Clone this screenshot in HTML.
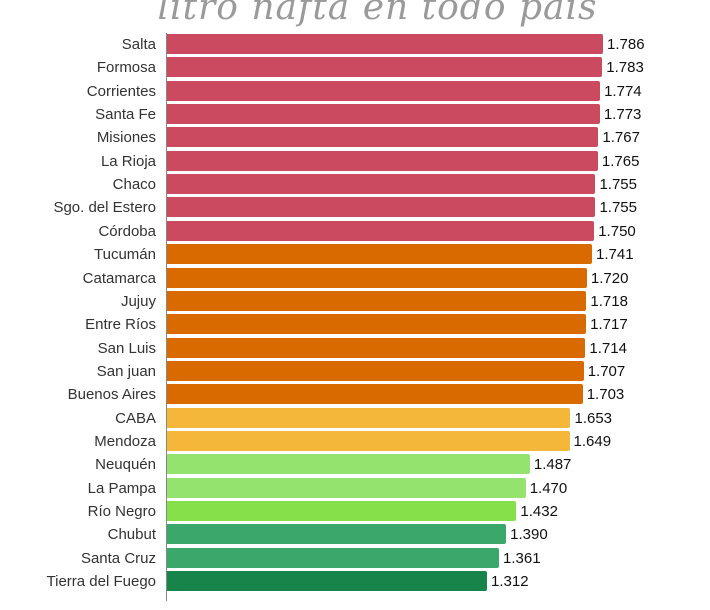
<!DOCTYPE html>
<html><head><meta charset="utf-8"><style>
body{margin:0;width:710px;height:610px;background:#fff;position:relative;overflow:hidden;font-family:"Liberation Sans",sans-serif}
.t{position:absolute;left:155px;width:445px;text-align:center;top:-13px;font-family:"DejaVu Serif","Liberation Serif",serif;font-style:italic;font-size:36px;color:#9a9a9a;letter-spacing:1px;white-space:nowrap}
.ax{position:absolute;left:166px;top:33px;width:1px;height:568px;background:#888}
.b{position:absolute;left:167px;height:20px;border-radius:0 2px 2px 0}
.l{position:absolute;right:554px;font-size:15px;color:#333;line-height:20px;white-space:nowrap}
.v{position:absolute;font-size:15px;color:#111;line-height:20px}
</style></head><body>
<div class="t">litro nafta en todo pais</div>
<div class="ax"></div>
<div id="c"></div>
<script>
var d=[["Salta",1.786,"#cc4a5f"],["Formosa",1.783,"#cc4a5f"],["Corrientes",1.774,"#cc4a5f"],["Santa Fe",1.773,"#cc4a5f"],["Misiones",1.767,"#cc4a5f"],["La Rioja",1.765,"#cc4a5f"],["Chaco",1.755,"#cc4a5f"],["Sgo. del Estero",1.755,"#cc4a5f"],["Córdoba",1.750,"#cc4a5f"],["Tucumán",1.741,"#d96a00"],["Catamarca",1.720,"#d96a00"],["Jujuy",1.718,"#d96a00"],["Entre Ríos",1.717,"#d96a00"],["San Luis",1.714,"#d96a00"],["San juan",1.707,"#d96a00"],["Buenos Aires",1.703,"#d96a00"],["CABA",1.653,"#f4b73a"],["Mendoza",1.649,"#f4b73a"],["Neuquén",1.487,"#94e36f"],["La Pampa",1.470,"#94e36f"],["Río Negro",1.432,"#85e04a"],["Chubut",1.390,"#3aa86b"],["Santa Cruz",1.361,"#3aa86b"],["Tierra del Fuego",1.312,"#17844a"]];
var h="";
d.forEach(function(r,i){var top=34+i*23.35;var end=166+r[1]*244.7;
h+='<div class="l" style="top:'+(top+1)+'px">'+r[0]+'</div>';
h+='<div class="b" style="top:'+top+'px;width:'+(end-167)+'px;background:'+r[2]+'"></div>';
h+='<div class="v" style="top:'+(top+1)+'px;left:'+(end+4)+'px">'+r[1].toFixed(3)+'</div>';});
document.getElementById("c").innerHTML=h;
</script>
</body></html>
